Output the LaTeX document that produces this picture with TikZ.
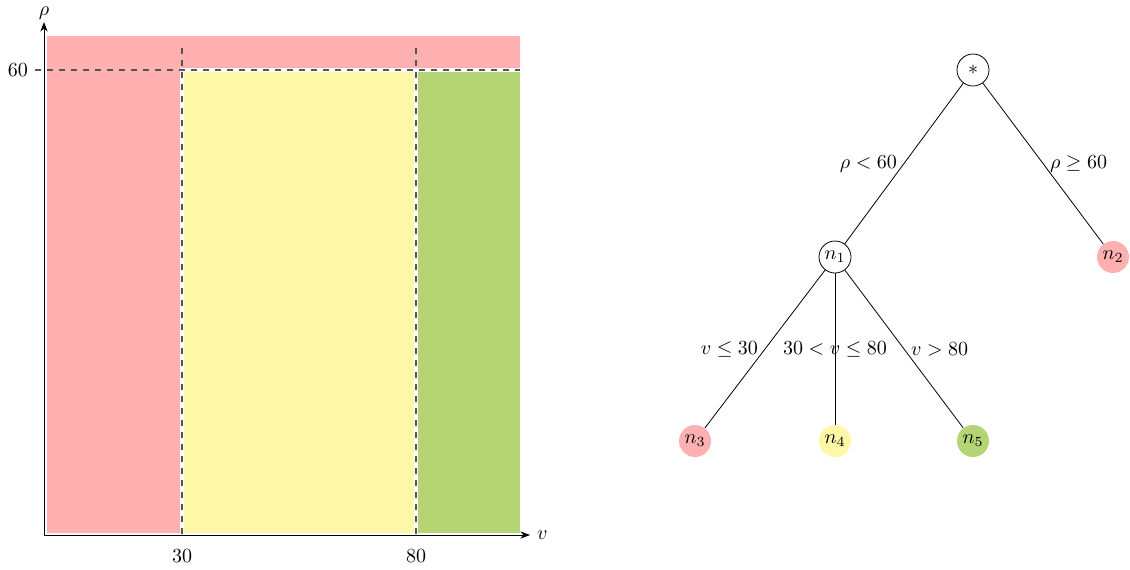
\documentclass[tikz,border=0pt]{standalone}
\usepackage{amsmath,amssymb}
\usepackage{xcolor}
\usepackage{tikz}
\usetikzlibrary{arrows.meta,positioning}
\definecolor{leafRed}{HTML}{FFB0B0}
\definecolor{leafYellow}{HTML}{FFF7A8}
\definecolor{leafGreen}{HTML}{B5D575}
\definecolor{splitGray}{HTML}{555555}

\begin{document}
\begin{tikzpicture}[>=Stealth,x=0.5pt,y=-0.5pt,
    split/.style={dashed,splitGray,line width=0.6pt},
    inner/.style={circle,draw,minimum size=16pt,inner sep=0.5pt},
    leaf/.style={circle,minimum size=16pt,inner sep=0.5pt}]
    \useasboundingbox (0,0) rectangle (1130,569);
    % partition of the feature space
    \begin{scope}
      \fill[leafRed] (47,36)--(520,36)--(520,68)--(180,68)--(180,533)--(47,533)--cycle;
      \fill[leafYellow] (184,72) rectangle (414,533);
      \fill[leafGreen] (418,72) rectangle (520,533);
      \draw[split] (35,70)--(520,70);
      \draw[split] (182,48)--(182,540);
      \draw[split] (416,48)--(416,540);
      \draw[->] (44,535)--(530,535) node[right] {$v$};
      \draw[->] (44,535)--(44,22);
      \node (rho) at (44,13) {$\rho$};
      \node (t30) at (182,556) {$30$};
      \node (t80) at (416,556) {$80$};
      \node (t60) at (18,70) {$60$};
    \end{scope}
    % decision tree
    \begin{scope}
      \node[inner] (root) at (973,70) {$*$};
      \node[inner] (n1) at (835,257) {$n_1$};
      \node[leaf,fill=leafRed] (n2) at (1113,257) {$n_2$};
      \node[leaf,fill=leafRed] (n3) at (695,441) {$n_3$};
      \node[leaf,fill=leafYellow] (n4) at (835,441) {$n_4$};
      \node[leaf,fill=leafGreen] (n5) at (973,441) {$n_5$};
      \draw (root) -- node[left] {$\rho < 60$} (n1);
      \draw (root) -- node[right] {$\rho \geq 60$} (n2);
      \draw (n1) -- node[left] {$v \leq 30$} (n3);
      \draw (n1) -- node {$30 < v \leq 80$} (n4);
      \draw (n1) -- node[right] {$v > 80$} (n5);
    \end{scope}
  \end{tikzpicture}
\end{document}
